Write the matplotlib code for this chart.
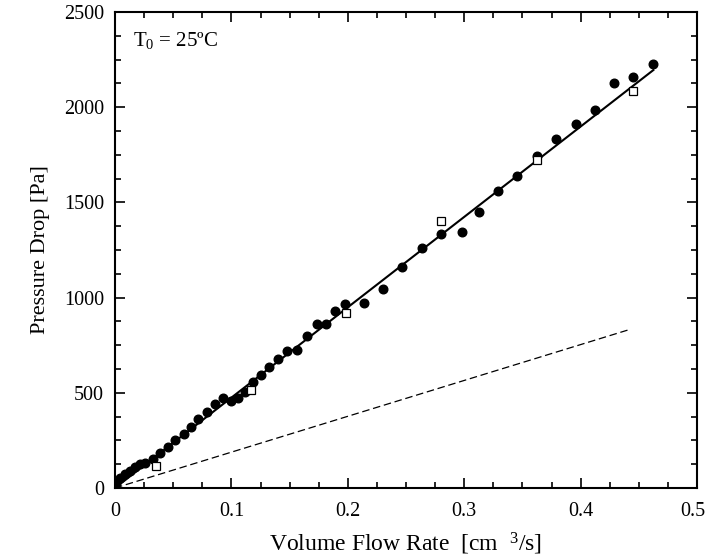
#pressure_drop_plot.py

import matplotlib
matplotlib.use("Agg")
import matplotlib.pyplot as plt
import matplotlib.transforms as mtransforms
from matplotlib.ticker import MultipleLocator

plt.rcParams['font.family'] = 'Liberation Serif'
plt.rcParams['mathtext.fontset'] = 'custom'
plt.rcParams['mathtext.rm'] = 'Liberation Serif'
plt.rcParams['mathtext.it'] = 'Liberation Serif:italic'

# measured data, filled circles
q_circ = [0.0009, 0.0046, 0.0088, 0.0131, 0.0174, 0.0217, 0.026, 0.0324,
          0.0389, 0.0455, 0.0518, 0.059, 0.0656, 0.0716, 0.0788, 0.0859,
          0.093, 0.0997, 0.106, 0.1117, 0.1188, 0.1254, 0.1323, 0.1397,
          0.1475, 0.156, 0.1647, 0.1733, 0.1813, 0.189, 0.1976, 0.2139,
          0.2305, 0.2468, 0.2634, 0.2798, 0.298, 0.313, 0.3293, 0.3456,
          0.3623, 0.3789, 0.3958, 0.4124, 0.4287, 0.4453, 0.4625]
dp_circ = [25, 51, 74, 91, 112, 126, 130, 151,
           185, 217, 252, 282, 322, 360, 401, 441,
           475, 459, 471, 506, 558, 595, 637, 678,
           722, 725, 800, 860, 861, 930, 966, 970,
           1047, 1159, 1259, 1334, 1345, 1451, 1560, 1639,
           1745, 1835, 1912, 1985, 2128, 2160, 2227]

# measured data, open squares
q_sq = [0.0355, 0.1168, 0.1982, 0.2798, 0.3628, 0.4453]
dp_sq = [116, 515, 921, 1404, 1723, 2087]

# fitted line (solid) and theory (dashed)
q_fit = [0.0, 0.4625]
dp_fit = [0.0, 2195]
q_th = [0.0, 0.4424]
dp_th = [0.0, 833]

xtick_vals = [0, 0.1, 0.2, 0.3, 0.4, 0.5]
xtick_text = ['0', '0.1', '0.2', '0.3', '0.4', '0.5']

fig = plt.figure(figsize=(7.08, 5.6), dpi=100, facecolor='white')
ax = fig.add_axes([115/708, 72/560, 582/708, 476/560])

ax.plot(q_fit, dp_fit, color='black', lw=1.5)
ax.plot(q_th, dp_th, color='black', lw=0.9, ls=(0, (6, 3)))
ax.plot(q_circ, dp_circ, 'o', color='black', ms=6.2, mec='black')
ax.plot(q_sq, dp_sq, 's', mfc='white', mec='black', ms=6, mew=0.9)

ax.set_xlim(0, 0.5)
ax.set_ylim(0, 2500)
ax.set_xticks(xtick_vals)
ax.set_xticklabels(xtick_text)
ax.xaxis.set_minor_locator(MultipleLocator(0.025))
ax.yaxis.set_major_locator(MultipleLocator(500))
ax.yaxis.set_minor_locator(MultipleLocator(125))

ax.tick_params(which='both', direction='in', top=True, right=True,
               width=1.2, labelsize=14.5)
ax.tick_params(which='major', length=7, pad=8)
ax.tick_params(axis='x', which='major', pad=10)
ax.tick_params(which='minor', length=4)
for s in ax.spines.values():
    s.set_linewidth(1.5)

# nudge last x label so it stays inside the picture
last = ax.get_xticklabels()[-1]
last.set_transform(last.get_transform() +
                   mtransforms.ScaledTranslation(-4/100, 0, fig.dpi_scale_trans))

ax.set_xlabel('Volume Flow Rate  [cm  $^{3}$/s]', fontsize=17, labelpad=7)
ax.set_ylabel('Pressure Drop [Pa]', fontsize=16, labelpad=10)

ax.text(0.0155, 2348, 'T$_{0}$ = 25ºC', fontsize=15, va='center', ha='left')

fig.savefig('out.png', dpi=100)

#End of File
